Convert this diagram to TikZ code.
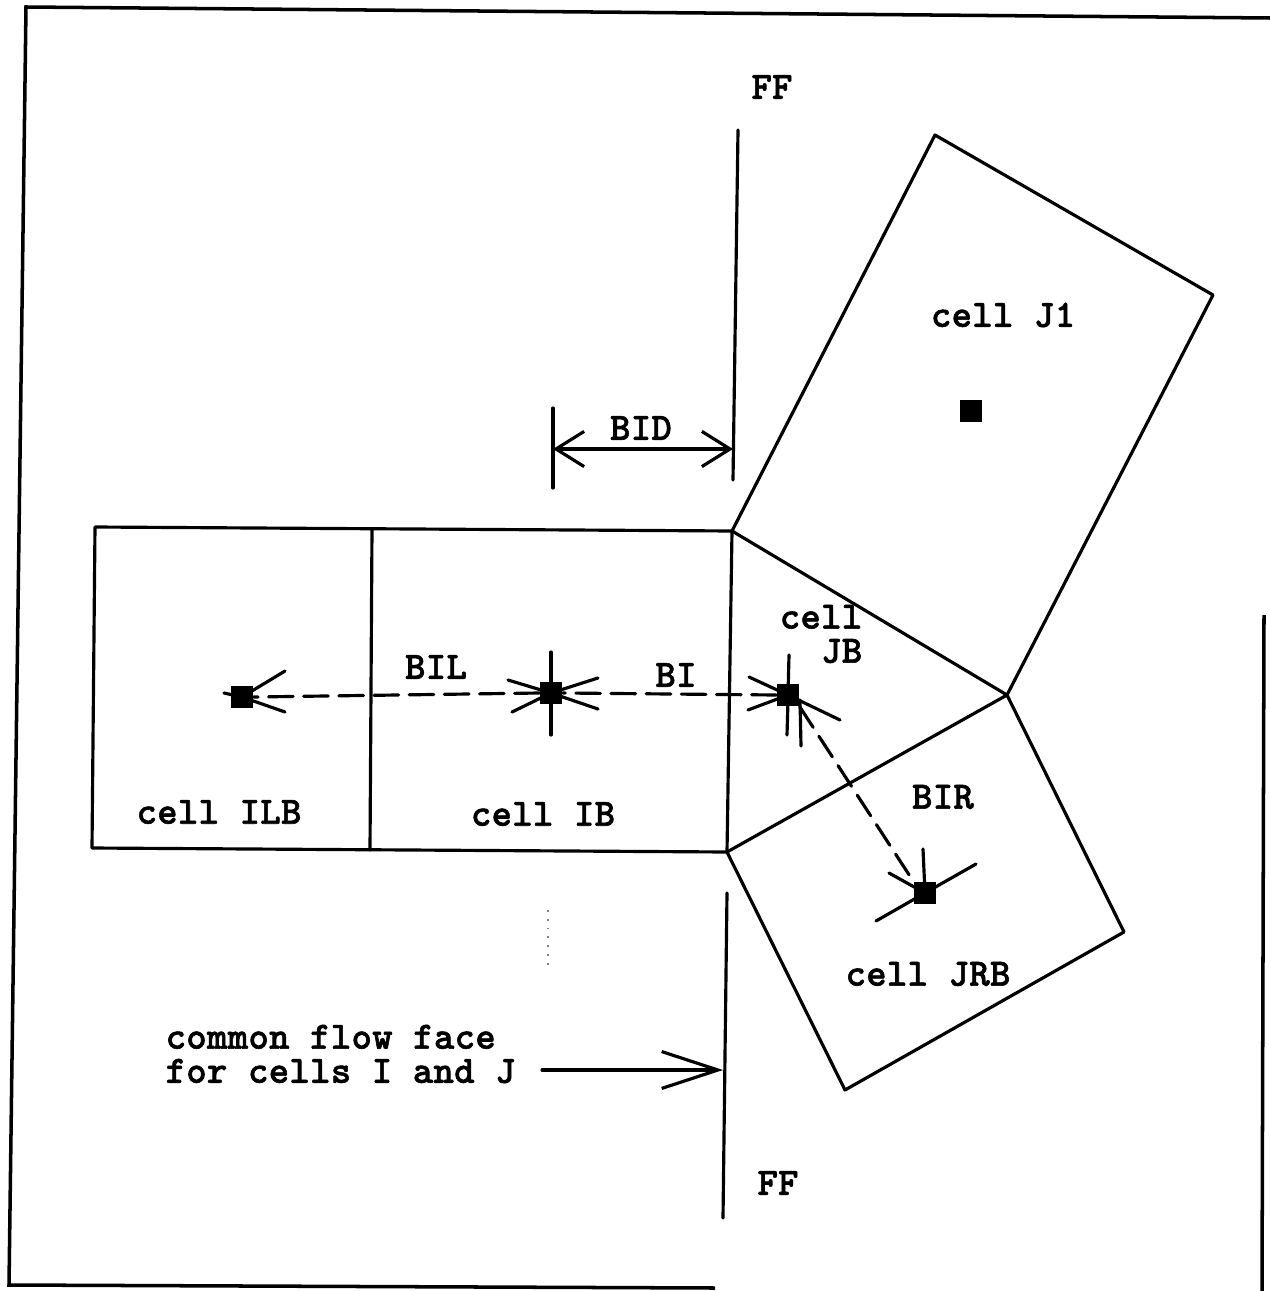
\documentclass[tikz,border=0pt]{standalone}
\usepackage{fontspec}
\newfontfamily\twfont{lmmonolt10-bold.otf}[LetterSpace=1,FakeBold=1.5]
\usetikzlibrary{arrows.meta}
\tikzset{
  barbtip/.tip={Straight Barb[length=8pt,width=10pt,line width=0.9pt]},
  bigbarbtip/.tip={Straight Barb[length=16pt,width=10.5pt,line width=0.9pt]}
}
\begin{document}
\begin{tikzpicture}[x=0.01cm,y=-0.01cm,
  ln/.style={line width=0.9pt, line cap=round, line join=round},
  frame/.style={line width=1pt},
  lbl/.style={font=\twfont\fontsize{11}{9.7}\selectfont, inner sep=0pt},
  sq/.style={fill=black, draw=none, minimum width=0.22cm, minimum height=0.22cm, inner sep=0pt},
  flow/.style={ln, dash pattern=on 7pt off 3pt}]
\useasboundingbox (0,0) rectangle (1270,1291);
\fill[white] (0,0) rectangle (1270,1291);
% frame (scanned, slightly skewed)
\coordinate (f1) at (26,7);
\coordinate (f2) at (1270,18);
\coordinate (f3) at (9,1285);
\coordinate (f4) at (715,1288);
\coordinate (f5) at (1264,615);
\coordinate (f6) at (1262,1291);
\draw[frame] (f2) -- (f1) -- (f3) -- (f4);
\draw[frame] (f5) -- (f6);
% cell corners
\coordinate (a1) at (95,527);
\coordinate (a2) at (372,529);
\coordinate (a3) at (732,531);
\coordinate (b1) at (92,848);
\coordinate (b2) at (370,850);
\coordinate (b3) at (727,852);
\coordinate (c)  at (1007,695);
\coordinate (j1) at (935,135);
\coordinate (j2) at (1213,295);
\coordinate (r1) at (1124,932);
\coordinate (r2) at (845,1090);
\draw[ln] (a1) -- (a3) -- (b3) -- (b1) -- cycle;
\draw[ln] (a2) -- (b2);
\draw[ln] (a3) -- (j1) -- (j2) -- (c) -- cycle;
\draw[ln] (b3) -- (c) -- (r1) -- (r2) -- cycle;
% flow face lines FF
\coordinate (ff1) at (738,130);
\coordinate (ff2) at (733,480);
\coordinate (ff3) at (727,893);
\coordinate (ff4) at (723,1218);
\draw[ln] (ff1) -- (ff2);
\draw[ln] (ff3) -- (ff4);
\node[lbl] (fftop) at (772,87) {FF};
\node[lbl] (ffbot) at (778,1183) {FF};
% BID dimension
\coordinate (t1) at (553,408);
\coordinate (t2) at (553,488);
\draw[ln] (t1) -- (t2);
\coordinate (bidL) at (553,449);
\coordinate (bidR) at (733,449);
\draw[ln, barbtip-barbtip] (bidL) -- (bidR);
\node[lbl] (bid) at (641,428) {BID};
% cell centres
\node[sq] (nILB) at (242,697) {};
\node[sq] (nIB) at (551,693) {};
\node[sq] (nJB) at (788,695) {};
\node[sq] (nJRB) at (925,893) {};
\node[sq] (nJ1) at (971,411) {};
% dashed connections
\draw[flow] (nIB.west) -- (nILB.east);
\draw[flow] (nJB.west) -- (nIB.east);
\draw[flow] (nJB.south east) -- (nJRB.north west);
% star lines at ILB
\draw[ln] (nILB.center) -- (285,671);
\draw[ln] (nILB.center) -- (285,712);
\draw[ln] (nILB.center) -- (224,693);
% star lines at IB
\draw[ln] (551,652) -- (551,735);
\draw[ln] (nIB.center) -- (508,680);
\draw[ln] (nIB.center) -- (512,712);
\draw[ln] (nIB.center) -- (598,678);
\draw[ln] (nIB.center) -- (598,709);
% star lines at JB
\draw[ln] (nJB.center) -- (789,655);
\draw[ln] (nJB.center) -- (749,677);
\draw[ln] (nJB.center) -- (748,710);
\draw[ln] (nJB.center) -- (840,720);
\draw[ln] (788,700) -- (787,735);
\draw[ln] (800,700) -- (801,746);
% star lines at JRB
\draw[ln] (nJRB.center) -- (923,849);
\draw[ln] (nJRB.center) -- (889,873);
\draw[ln] (nJRB.center) -- (976,864);
\draw[ln] (nJRB.center) -- (876,921);
% labels
\node[lbl] (lJ1) at (1003,315) {cell J1};
\node[lbl, align=right] (lJB) at (821,634) {cell\\JB};
\node[lbl] (lBIL) at (436,667) {BIL};
\node[lbl] (lBI) at (676,675) {BI};
\node[lbl] (lBIR) at (943,797) {BIR};
\node[lbl] (lILB) at (219,812) {cell ILB};
\node[lbl] (lIB) at (543,814) {cell IB};
\node[lbl] (lJRB) at (928,974) {cell JRB};
% common flow face
\node[lbl, align=left, anchor=west] (cff) at (165,1054) {common flow face\\for cells I and J};
\coordinate (cffR) at (723,1070);
\draw[ln, -bigbarbtip] (542,1070) -- (cffR);
% faint dotted mark
\draw[line width=0.5pt, dotted, gray] (548,910) -- (548,965);
\end{tikzpicture}
\end{document}
